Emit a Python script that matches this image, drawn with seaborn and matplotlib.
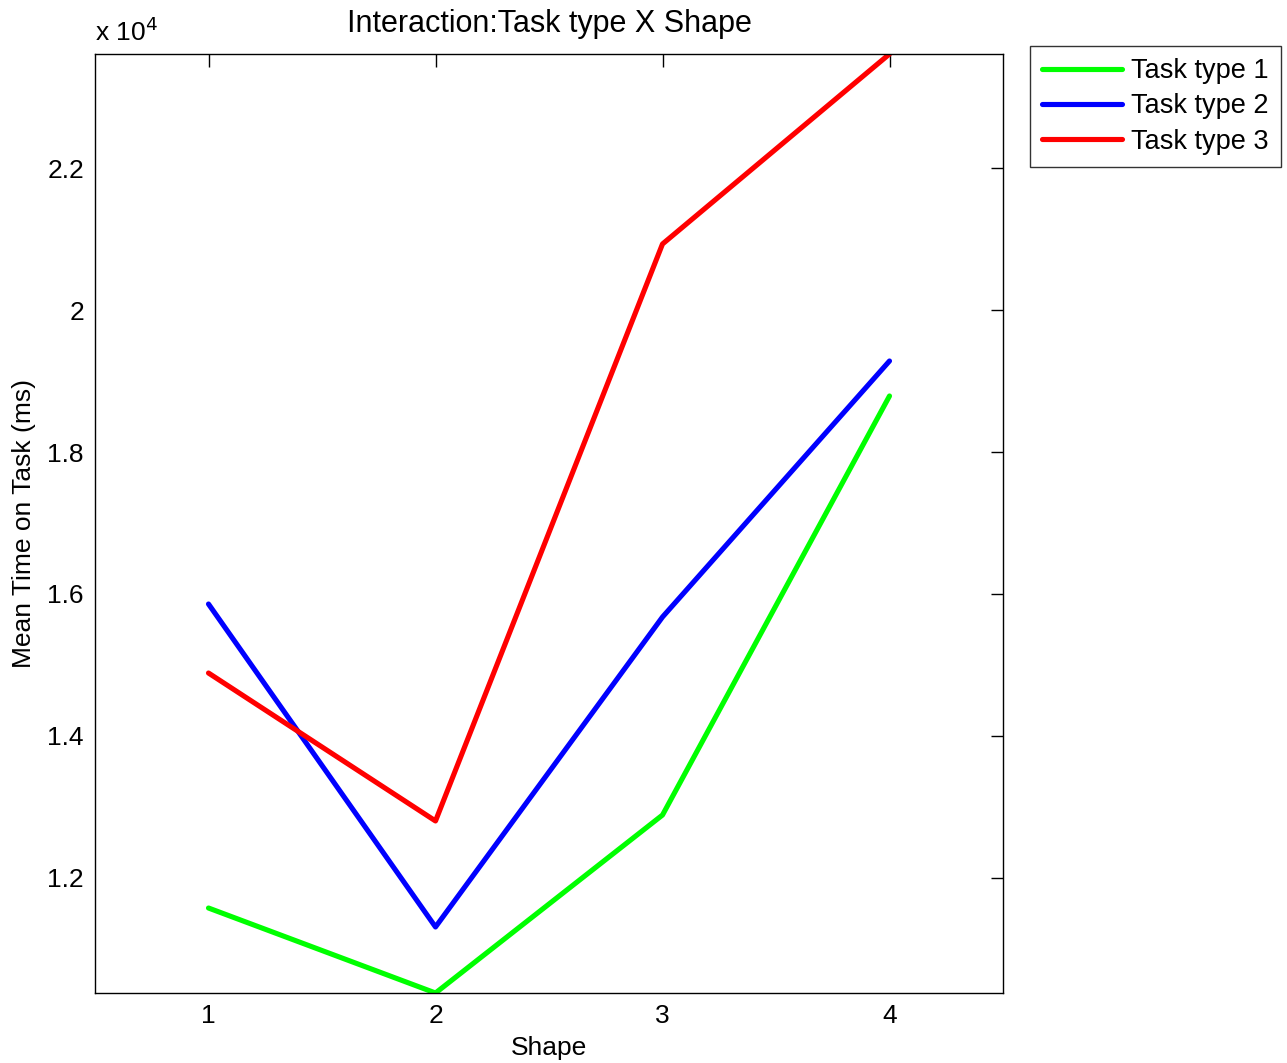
import matplotlib
matplotlib.use("Agg")
import matplotlib.pyplot as plt
import seaborn as sns
import pandas as pd
from matplotlib.ticker import FuncFormatter, FixedLocator

shapes = [1, 2, 3, 4]
task1 = [11577, 10380, 12887, 18789]
task2 = [15859, 11310, 15676, 19282]
task3 = [14887, 12803, 20930, 23606]
series_names = ["Task type 1", "Task type 2", "Task type 3"]
colors = ["#00ff00", "#0000ff", "#ff0000"]
yticks = [12000, 14000, 16000, 18000, 20000, 22000]

rows = []
for name, vals in zip(series_names, [task1, task2, task3]):
    for s, v in zip(shapes, vals):
        rows.append({"Shape": s, "Time": v, "Task": name})
df = pd.DataFrame(rows)

sns.set_theme(style="white")
plt.rcParams['font.family'] = ['Liberation Sans', 'DejaVu Sans']
plt.rcParams['text.color'] = 'black'
plt.rcParams['axes.labelcolor'] = 'black'

fig = plt.figure(figsize=(12.87, 10.63), dpi=100)
ax = fig.add_axes([95/1287, 70/1063, 908/1287, 939/1063])
sns.lineplot(data=df, x="Shape", y="Time", hue="Task", palette=colors,
             linewidth=3.7, sort=False, ax=ax, errorbar=None)

ax.set_xlim(0.5, 4.5)
ax.set_ylim(min(task1), max(task3))
ax.xaxis.set_major_locator(FixedLocator(shapes))
ax.yaxis.set_major_locator(FixedLocator(yticks))
ax.yaxis.set_major_formatter(FuncFormatter(lambda v, p: f"{v/1e4:g}"))
ax.xaxis.set_major_formatter(FuncFormatter(lambda v, p: f"{int(v)}"))
ax.tick_params(direction="in", length=9, width=1, top=True, right=True,
               labelsize=19, colors="black", pad=8)
for sp in ax.spines.values():
    sp.set_visible(True)
    sp.set_color("black")
    sp.set_linewidth(1)

ax.set_xlabel("Shape", fontsize=19, labelpad=6, color="black")
ax.set_ylabel("Mean Time on Task (ms)", fontsize=19, labelpad=8, color="black")
ax.set_title("Interaction:Task type X Shape", fontsize=22, pad=16, color="black")
ax.text(0.0, 1.008, r"x 10$^4$", transform=ax.transAxes, fontsize=19,
        ha="left", va="bottom", color="black")

leg = ax.legend(loc="upper left", bbox_to_anchor=(1.0297, 1.0085), fontsize=19.5,
                frameon=True, fancybox=False, edgecolor="black",
                handlelength=2.95, labelspacing=0.34, borderpad=0.45,
                handletextpad=0.34, borderaxespad=0)
leg.get_frame().set_linewidth(1)
for t in leg.get_texts():
    t.set_color("black")

fig.savefig("out.png", dpi=100)
